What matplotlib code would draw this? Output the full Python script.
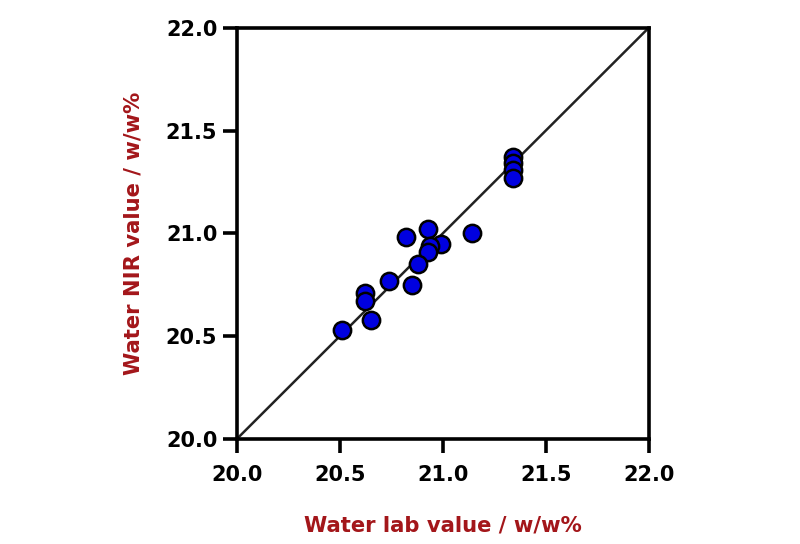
import numpy as np
import matplotlib
matplotlib.use('Agg')
import matplotlib.pyplot as plt

# lab value vs NIR predicted value (w/w%)
lab_value = [21.34, 21.34, 21.34, 21.34, 20.93, 20.82, 20.99, 21.14, 20.94, 20.93,
             20.88, 20.74, 20.85, 20.62, 20.62, 20.65, 20.51]
nir_value = [21.37, 21.34, 21.31, 21.27, 21.02, 20.98, 20.95, 21.00, 20.94, 20.91,
             20.85, 20.77, 20.75, 20.71, 20.67, 20.58, 20.53]
ticks = [20.0, 20.5, 21.0, 21.5, 22.0]

plt.rcParams['font.family'] = ['DejaVu Sans']

fig = plt.figure(figsize=(8, 5.44), dpi=100)
ax = fig.add_axes([0.296, 0.193, 0.515, 0.756])

ax.plot([20, 22], [20, 22], color='#222222', lw=1.8, zorder=1)
ax.scatter(lab_value, nir_value, s=155, c='#0000e0', edgecolors='black',
           linewidths=1.8, zorder=3)

ax.set_xlim(20, 22)
ax.set_ylim(20, 22)
ax.set_xticks(ticks)
ax.set_yticks(ticks)
ax.set_xticklabels(['%.1f' % t for t in ticks], fontsize=15, fontweight='bold')
ax.set_yticklabels(['%.1f' % t for t in ticks], fontsize=15, fontweight='bold')
ax.tick_params(direction='out', length=10, width=2.6)
ax.tick_params(axis='x', pad=9)
ax.tick_params(axis='y', pad=4)

for s in ax.spines.values():
    s.set_linewidth(2.6)

lab_color = '#a3161a'
ax.set_xlabel('Water lab value / w/w%', fontsize=15.2, fontweight='bold',
              color=lab_color, labelpad=22)
ax.set_ylabel('Water NIR value / w/w%', fontsize=15.2, fontweight='bold',
              color=lab_color, labelpad=16)

plt.savefig('out.png', dpi=100)
